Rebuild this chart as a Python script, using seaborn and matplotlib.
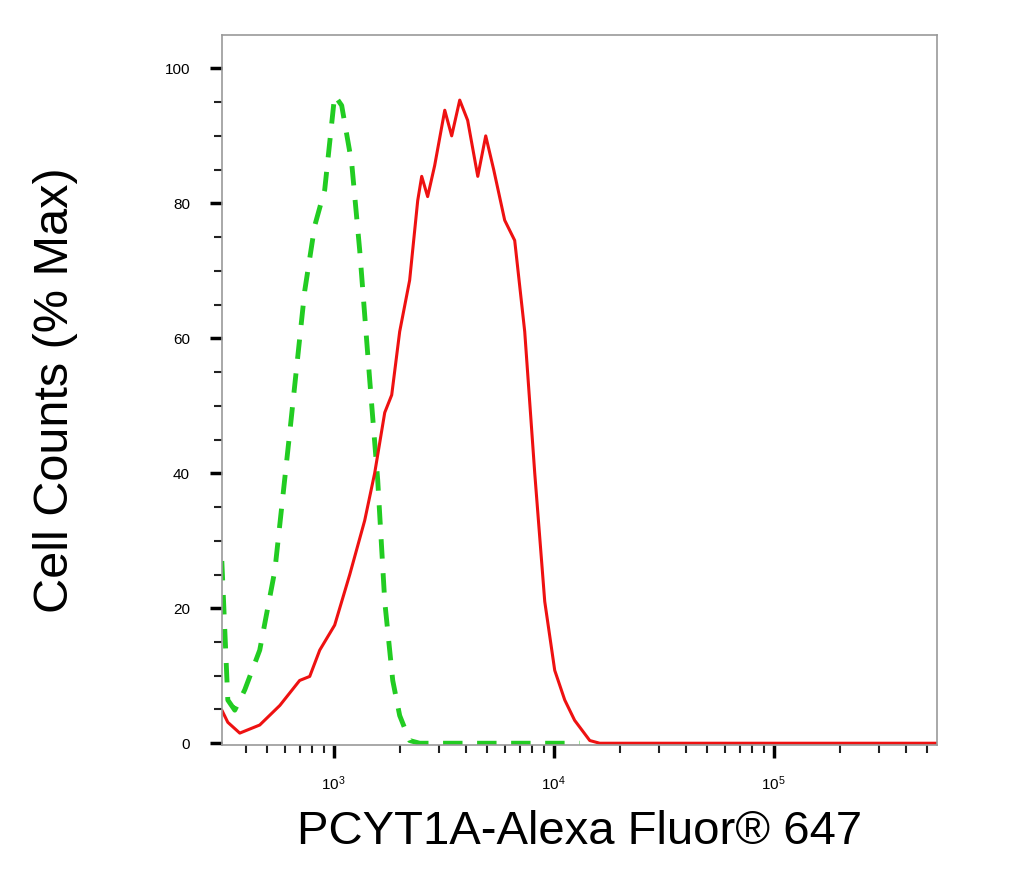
import matplotlib
matplotlib.use("Agg")
import matplotlib.pyplot as plt
import seaborn as sns
import numpy as np
from matplotlib.ticker import LogLocator, NullFormatter, FixedLocator

sns.set_style("ticks")
plt.rcParams['font.family'] = ['Liberation Sans', 'DejaVu Sans']
plt.rcParams['text.color'] = 'black'
plt.rcParams['axes.labelcolor'] = 'black'

red_x = [310, 330, 374, 461, 569, 700, 778, 864, 1010, 1183, 1383, 1535, 1706, 1835, 1995, 2214,
         2409, 2512, 2673, 2877, 3198, 3438, 3740, 4064, 4518, 4910, 5337, 5988, 6650, 7385, 8203,
         9107, 10110, 11230, 12450, 14590, 16190, 550800]
red_y = [4.9, 3.1, 1.5, 2.7, 5.6, 9.3, 9.9, 13.8, 17.5, 25, 33, 40, 49, 51.6, 61, 68.6,
         80.4, 84, 81, 85.6, 93.8, 90, 95.3, 92.3, 84, 90, 85, 77.5, 74.5, 61, 40,
         21, 10.8, 6.4, 3.4, 0.4, 0, 0]
green_x = [310, 330, 355, 394, 461, 540, 631, 738, 820, 910, 1010, 1087, 1207, 1313, 1458,
           1585, 1706, 1855, 1995, 2214, 2460, 13120]
green_y = [27, 6.4, 4.9, 7.9, 13.8, 25.6, 46, 67, 76.7, 82, 96, 94.5, 86, 73, 53.8,
           39, 21, 9.3, 4.1, 0.4, 0, 0]

fig = plt.figure(figsize=(10.27, 8.83), dpi=100)
ax = fig.add_axes([0.216, 0.156, 0.696, 0.804])
sns.lineplot(x=green_x, y=green_y, ax=ax, color='#22cc22', lw=3.5, linestyle=(0, (4, 3)), sort=False)
sns.lineplot(x=red_x, y=red_y, ax=ax, color='#ee1111', lw=2.2, sort=False)
ax.set_xscale('log')
ax.set_xlim(310, 550800)
ax.set_ylim(-0.3, 104.9)
ax.grid(False)
ax.xaxis.set_major_locator(FixedLocator([1e3, 1e4, 1e5]))
ax.xaxis.set_minor_locator(LogLocator(base=10, subs=np.arange(2, 10)))
ax.xaxis.set_minor_formatter(NullFormatter())
ax.set_yticks([0, 20, 40, 60, 80, 100])
ax.set_yticks(np.arange(0, 101, 5), minor=True)
ax.tick_params(axis='both', which='both', bottom=True, left=True, top=False, right=False)
ax.tick_params(axis='both', which='major', direction='out', length=9, width=2.5, color='black',
               labelsize=11, labelcolor='black', pad=14)
ax.tick_params(axis='both', which='minor', direction='out', length=6, width=1.5, color='#222222')
ax.tick_params(axis='x', which='major', pad=12)
for s in ax.spines.values():
    s.set_visible(True)
    s.set_color('#999999')
    s.set_linewidth(1.2)
ax.set_xlabel('PCYT1A-Alexa Fluor® 647', fontsize=34, labelpad=12)
ax.set_ylabel('Cell Counts (% Max)', fontsize=35, labelpad=62)
fig.savefig('out.png', dpi=100)
